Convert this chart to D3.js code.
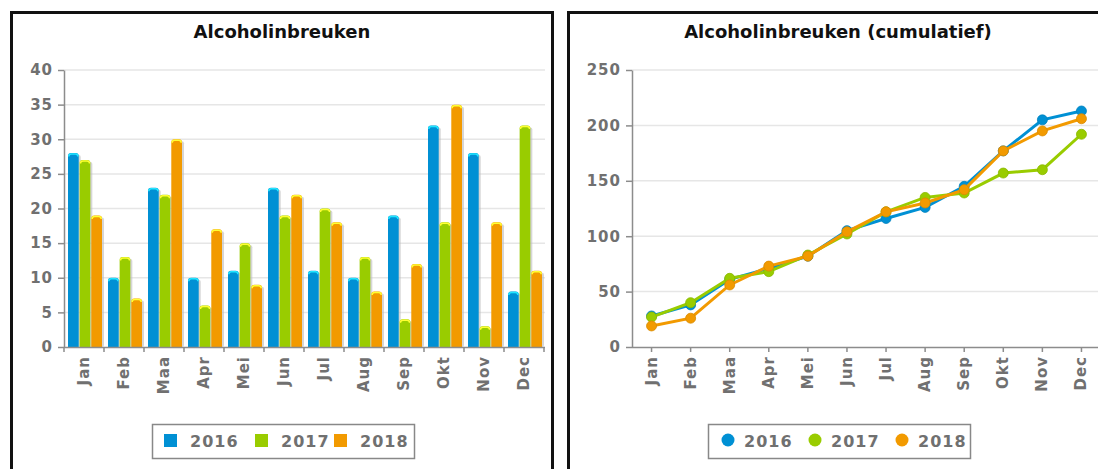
<!DOCTYPE html>
<html>
<head>
<meta charset="utf-8">
<script src="https://cdn.jsdelivr.net/npm/d3@7"></script>
<style>
  body { margin: 0; background: #fff; }
  svg { display: block; font-family: "DejaVu Sans", sans-serif; }
</style>
</head>
<body>
<svg id="chart" width="1098" height="469"></svg>
<script>
// months and years
var months = ["Jan", "Feb", "Maa", "Apr", "Mei", "Jun", "Jul", "Aug", "Sep", "Okt", "Nov", "Dec"];
var years = ["2016", "2017", "2018"];

// monthly counts (left chart)
var monthly2016 = [28, 10, 23, 10, 11, 23, 11, 10, 19, 32, 28, 8];
var monthly2017 = [27, 13, 22, 6, 15, 19, 20, 13, 4, 18, 3, 32];
var monthly2018 = [19, 7, 30, 17, 9, 22, 18, 8, 12, 35, 18, 11];

// cumulative counts (right chart)
var cum2016 = [28, 38, 61, 71, 82, 105, 116, 126, 145, 177, 205, 213];
var cum2017 = [27, 40, 62, 68, 83, 102, 122, 135, 139, 157, 160, 192];
var cum2018 = [19, 26, 56, 73, 82, 104, 122, 130, 142, 177, 195, 206];

var barTicks = [0, 5, 10, 15, 20, 25, 30, 35, 40];
var lineTicks = [0, 50, 100, 150, 200, 250];

var colors = {"2016": "#0090d4", "2017": "#99cc00", "2018": "#f29a00"};
var capColors = {"2016": "#22e6ff", "2017": "#ffff33", "2018": "#ffff33"};

var monthlyData = {"2016": monthly2016, "2017": monthly2017, "2018": monthly2018};
var cumData = {"2016": cum2016, "2017": cum2017, "2018": cum2018};

var svg = d3.select("#chart");
var axisGrey = "#8c8c8c";
var labelGrey = "#707070";

// panel borders
svg.append("rect").attr("x", 11.5).attr("y", 12.5).attr("width", 541).attr("height", 480)
  .attr("fill", "none").attr("stroke", "#111").attr("stroke-width", 3);
svg.append("rect").attr("x", 568.5).attr("y", 12.5).attr("width", 560).attr("height", 480)
  .attr("fill", "none").attr("stroke", "#111").attr("stroke-width", 3);

// titles
svg.append("text").attr("x", 282).attr("y", 38).attr("text-anchor", "middle")
  .style("font-size", "18px").style("font-weight", "bold").attr("fill", "#111")
  .text("Alcoholinbreuken");
svg.append("text").attr("x", 838).attr("y", 38).attr("text-anchor", "middle")
  .style("font-size", "18px").style("font-weight", "bold").attr("fill", "#111")
  .text("Alcoholinbreuken (cumulatief)");

function drawYAxis(g, scale, ticks, x0, x1) {
  // gridlines
  g.selectAll("line.grid").data(ticks.filter(t => t > 0)).enter().append("line")
    .attr("class", "grid")
    .attr("x1", x0).attr("x2", x1)
    .attr("y1", d => scale(d)).attr("y2", d => scale(d))
    .attr("stroke", "#e6e6e6").attr("stroke-width", 1.5);

  var ax = g.append("g").attr("transform", "translate(" + x0 + ",0)")
    .call(d3.axisLeft(scale).tickValues(ticks).tickSize(6).tickPadding(5).tickSizeOuter(0));
  ax.select(".domain").attr("stroke", axisGrey).attr("stroke-width", 1.5);
  ax.selectAll(".tick line").attr("stroke", axisGrey).attr("stroke-width", 1.5);
  ax.selectAll(".tick text").attr("fill", labelGrey)
    .style("font-size", "15px").style("font-weight", "bold").style("letter-spacing", "1px")
    .style("font-family", "DejaVu Sans, sans-serif");
}

function drawXLabels(g, positions, y) {
  g.selectAll("text.xl").data(months).enter().append("text")
    .attr("class", "xl")
    .attr("transform", (d, i) => "translate(" + (positions[i] + 5) + "," + y + ") rotate(-90)")
    .attr("text-anchor", "end")
    .attr("fill", labelGrey)
    .style("font-size", "15px").style("font-weight", "bold").style("letter-spacing", "1px")
    .text(d => d);
}

// ---------- LEFT: bar chart ----------
var left = svg.append("g");
var yBar = d3.scaleLinear().domain([0, 40]).range([347, 70]);
var xBar = d3.scaleBand().domain(months).range([64, 544]);
var xSeries = d3.scaleBand().domain(years).range([4, 38]).paddingInner(0.08);

drawYAxis(left, yBar, barTicks, 64, 545);

var groups = left.selectAll("g.month").data(months).enter().append("g")
  .attr("class", "month")
  .attr("transform", d => "translate(" + xBar(d) + ",0)");

years.forEach(function (yr) {
  var w = xSeries.bandwidth();
  var bars = groups.append("g").attr("transform", "translate(" + xSeries(yr) + ",0)");
  // shadow
  bars.append("rect")
    .attr("x", 2).attr("width", w)
    .attr("y", (d, i) => yBar(monthlyData[yr][i]) + 2)
    .attr("height", (d, i) => 347 - yBar(monthlyData[yr][i]) - 2)
    .attr("rx", 2)
    .attr("fill", "#bbb").attr("opacity", 0.6);
  // bar
  bars.append("path")
    .attr("d", function (d, i) {
      var top = yBar(monthlyData[yr][i]), r = 3;
      return "M0,347 L0," + (top + r) + " Q0," + top + " " + r + "," + top +
        " L" + (w - r) + "," + top + " Q" + w + "," + top + " " + w + "," + (top + r) +
        " L" + w + ",347 Z";
    })
    .attr("fill", colors[yr]);
  // highlight cap
  bars.append("path")
    .attr("d", function (d, i) {
      var top = yBar(monthlyData[yr][i]) + 1, r = 2.5;
      return "M0.8," + (top + r) + " Q0.8," + top + " " + (r + 0.8) + "," + top +
        " L" + (w - r - 0.8) + "," + top + " Q" + (w - 0.8) + "," + top + " " + (w - 0.8) + "," + (top + r);
    })
    .attr("fill", "none").attr("stroke", capColors[yr]).attr("stroke-width", 1.5);
});

// x axis line and boundary ticks
left.append("line").attr("x1", 64).attr("x2", 545).attr("y1", 347.5).attr("y2", 347.5)
  .attr("stroke", axisGrey).attr("stroke-width", 1.5);
left.selectAll("line.bt").data(months.concat(["end"])).enter().append("line")
  .attr("class", "bt")
  .attr("x1", (d, i) => 64 + i * xBar.bandwidth()).attr("x2", (d, i) => 64 + i * xBar.bandwidth())
  .attr("y1", 347).attr("y2", 352)
  .attr("stroke", axisGrey).attr("stroke-width", 1.5);
drawXLabels(left, months.map(m => xBar(m) + xBar.bandwidth() / 2), 356);

// legend left
var legL = left.append("g");
legL.append("rect").attr("x", 152.5).attr("y", 424.5).attr("width", 262).attr("height", 34)
  .attr("fill", "#fff").attr("stroke", "#888").attr("stroke-width", 1.5);
var legLx = [164, 255, 334];
years.forEach(function (yr, i) {
  legL.append("rect").attr("x", legLx[i]).attr("y", 434).attr("width", 13).attr("height", 13)
    .attr("fill", colors[yr]);
  legL.append("text").attr("x", legLx[i] + 26).attr("y", 447)
    .attr("fill", labelGrey).style("font-size", "16px").style("font-weight", "bold")
    .style("letter-spacing", "1px").text(yr);
});

// ---------- RIGHT: line chart ----------
var right = svg.append("g");
var yLine = d3.scaleLinear().domain([0, 250]).range([347, 70]);
var xLine = d3.scaleBand().domain(months).range([632, 1101]);
var cx = m => xLine(m) + xLine.bandwidth() / 2;

drawYAxis(right, yLine, lineTicks, 632, 1098);

right.append("line").attr("x1", 632).attr("x2", 1098).attr("y1", 347.5).attr("y2", 347.5)
  .attr("stroke", axisGrey).attr("stroke-width", 1.5);
right.selectAll("line.pt").data(months).enter().append("line")
  .attr("class", "pt")
  .attr("x1", d => cx(d)).attr("x2", d => cx(d))
  .attr("y1", 347).attr("y2", 352)
  .attr("stroke", axisGrey).attr("stroke-width", 1.5);
drawXLabels(right, months.map(cx), 356);

var line = d3.line().x(d => cx(d.m)).y(d => yLine(d.v));

years.forEach(function (yr) {
  var pts = months.map((m, i) => ({m: m, v: cumData[yr][i]}));
  right.append("path").datum(pts).attr("d", line)
    .attr("fill", "none").attr("stroke", colors[yr]).attr("stroke-width", 3);
  right.selectAll("circle.p" + yr).data(pts).enter().append("circle")
    .attr("class", "p" + yr)
    .attr("cx", d => cx(d.m)).attr("cy", d => yLine(d.v)).attr("r", 5)
    .attr("fill", colors[yr]).attr("stroke", d3.color(colors[yr]).darker(0.3)).attr("stroke-width", 0.8);
});

// legend right
var legR = right.append("g");
legR.append("rect").attr("x", 708.5).attr("y", 424.5).attr("width", 262).attr("height", 34)
  .attr("fill", "#fff").attr("stroke", "#888").attr("stroke-width", 1.5);
var legRx = [728, 815, 902];
years.forEach(function (yr, i) {
  legR.append("circle").attr("cx", legRx[i]).attr("cy", 440).attr("r", 6.5)
    .attr("fill", colors[yr]);
  legR.append("text").attr("x", legRx[i] + 16).attr("y", 447)
    .attr("fill", labelGrey).style("font-size", "16px").style("font-weight", "bold")
    .style("letter-spacing", "1px").text(yr);
});
</script>
</body>
</html>
